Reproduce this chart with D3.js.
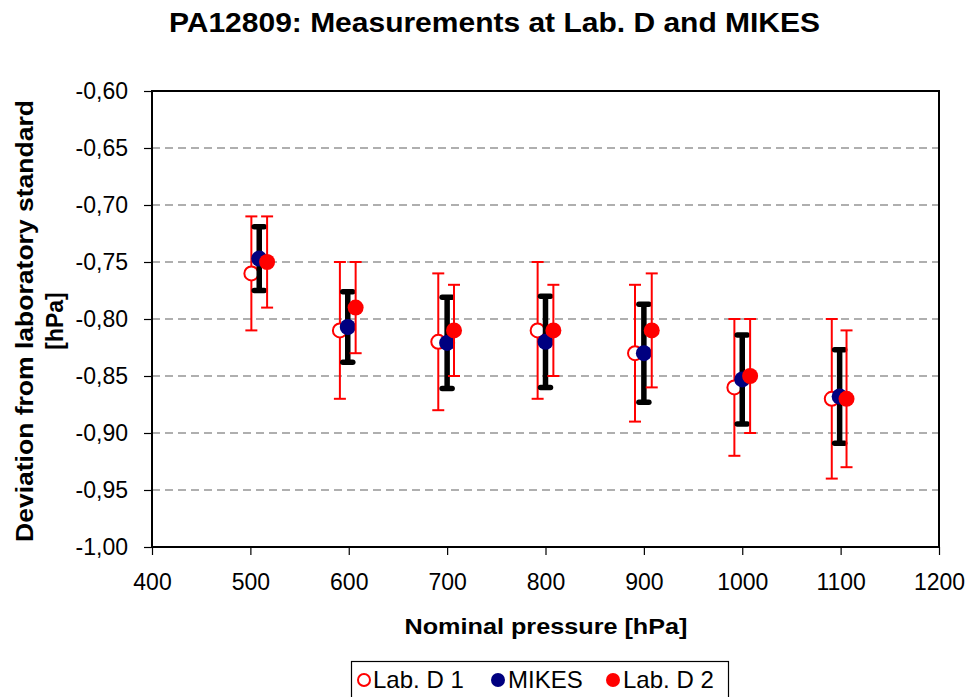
<!DOCTYPE html>
<html><head><meta charset="utf-8">
<script src="https://cdn.jsdelivr.net/npm/d3@7"></script>
<style>body{margin:0;background:#fff}svg{display:block}text{font-family:Arial,"Liberation Sans",sans-serif}</style>
</head><body>
<svg id="c" width="970" height="697"></svg>
<script>
// Data
const xTicks = [400, 500, 600, 700, 800, 900, 1000, 1100, 1200];
const yTicks = [-1.00, -0.95, -0.90, -0.85, -0.80, -0.75, -0.70, -0.65, -0.60];

const labD1P   = [501, 591, 691, 792, 891, 992, 1091];
const labD1Val = [-0.76, -0.81, -0.82, -0.81, -0.83, -0.86, -0.87];
const labD1U   = [0.05, 0.06, 0.06, 0.06, 0.06, 0.06, 0.07];

const mikesP   = [509, 599, 700, 800, 900, 1000, 1099];
const mikesVal = [-0.747, -0.807, -0.821, -0.820, -0.830, -0.853, -0.868];
const mikesU   = [0.028, 0.031, 0.040, 0.040, 0.043, 0.039, 0.041];

const labD2P   = [517, 607, 707, 808, 908, 1008, 1106];
const labD2Val = [-0.75, -0.79, -0.81, -0.81, -0.81, -0.85, -0.87];
const labD2U   = [0.04, 0.04, 0.04, 0.04, 0.05, 0.05, 0.06];

const svg = d3.select("#c");
const L = 152, R = 939, T = 91, B = 547;
const x = d3.scaleLinear().domain([400, 1200]).range([L, R]);
const y = d3.scaleLinear().domain([-1.0, -0.6]).range([B, T]);
const loc = d3.formatLocale({decimal: ",", thousands: ".", grouping: [3], currency: ["", ""], minus: "-"});
const fy = loc.format(".2f");

// title
svg.append("text").attr("x", 169).attr("y", 32).attr("text-anchor", "start")
  .attr("font-size", 28).attr("font-weight", "bold")
  .attr("textLength", 651).attr("lengthAdjust", "spacingAndGlyphs")
  .text("PA12809: Measurements at Lab. D and MIKES");

// grid
svg.append("g").selectAll("line").data(yTicks.filter(v => v > -0.999 && v < -0.601)).join("line")
  .attr("x1", L).attr("x2", R).attr("y1", d => y(d)).attr("y2", d => y(d))
  .attr("stroke", "#606060").attr("stroke-width", 1.1).attr("stroke-dasharray", "8,5");

// axes
const gx = svg.append("g").attr("transform", `translate(0,${B})`)
  .call(d3.axisBottom(x).tickValues(xTicks).tickFormat(d3.format("d")).tickSize(8).tickSizeOuter(0).tickPadding(19));
gx.selectAll("text").attr("font-size", 23).attr("fill", "#000");
const gy = svg.append("g").attr("transform", `translate(${L},0)`)
  .call(d3.axisLeft(y).tickValues(yTicks).tickFormat(fy).tickSize(8).tickSizeOuter(0).tickPadding(16));
gy.selectAll("text").attr("font-size", 23).attr("fill", "#000");
svg.selectAll(".domain").remove();
svg.selectAll(".tick line").attr("stroke", "#000").attr("stroke-width", 1.2);

// frame
svg.append("rect").attr("x", L).attr("y", T).attr("width", R - L).attr("height", B - T)
  .attr("fill", "none").attr("stroke", "#000").attr("stroke-width", 2);

// series drawing
function series(P, V, U, barColor, barW, capW, draw) {
  const g = svg.append("g");
  P.forEach((p, i) => {
    const cx = x(p), y0 = y(V[i] - U[i]), y1 = y(V[i] + U[i]);
    g.append("line").attr("x1", cx).attr("x2", cx).attr("y1", y0).attr("y2", y1)
      .attr("stroke", barColor).attr("stroke-width", barW);
    [y0, y1].forEach(yy => g.append("line").attr("x1", cx - capW / 2).attr("x2", cx + capW / 2)
      .attr("y1", yy).attr("y2", yy).attr("stroke", barColor).attr("stroke-width", barW).attr("stroke-linecap", barW > 3 ? "round" : "butt"));
  });
  P.forEach((p, i) => draw(g.append("circle").attr("cx", x(p)).attr("cy", y(V[i]))));
}
series(labD1P, labD1Val, labD1U, "#ff0000", 2, 12, c => c.attr("r", 7).attr("fill", "#fff").attr("stroke", "#ff0000").attr("stroke-width", 2));
series(mikesP, mikesVal, mikesU, "#000", 5.5, 10, c => c.attr("r", 8).attr("fill", "#000080"));
series(labD2P, labD2Val, labD2U, "#ff0000", 2, 12, c => c.attr("r", 8).attr("fill", "#ff0000"));

// axis titles
svg.append("text").attr("x", 546).attr("y", 634).attr("text-anchor", "middle")
  .attr("font-size", 22).attr("font-weight", "bold")
  .attr("textLength", 283).attr("lengthAdjust", "spacingAndGlyphs")
  .text("Nominal pressure [hPa]");
const yt = svg.append("text").attr("transform", `translate(0,${(T + B) / 2 + 2}) rotate(-90)`)
  .attr("text-anchor", "middle").attr("font-size", 23).attr("font-weight", "bold");
yt.append("tspan").attr("x", 0).attr("y", 33).attr("textLength", 442).attr("lengthAdjust", "spacingAndGlyphs")
  .text("Deviation from laboratory standard");
yt.append("tspan").attr("x", 0).attr("y", 63).text("[hPa]");

// legend
const lg = svg.append("g");
lg.append("rect").attr("x", 351.5).attr("y", 661.5).attr("width", 377).attr("height", 45)
  .attr("fill", "#fff").attr("stroke", "#000").attr("stroke-width", 1.2);
const items = [
  {name: "Lab. D 1", cx: 364, tx: 373, fill: "#fff", stroke: "#ff0000"},
  {name: "MIKES", cx: 498, tx: 508, fill: "#000080", stroke: "none"},
  {name: "Lab. D 2", cx: 613, tx: 623, fill: "#ff0000", stroke: "none"}
];
items.forEach(it => {
  lg.append("circle").attr("cx", it.cx).attr("cy", 680).attr("r", it.stroke === "none" ? 7 : 6)
    .attr("fill", it.fill).attr("stroke", it.stroke).attr("stroke-width", 2);
  lg.append("text").attr("x", it.tx).attr("y", 688).attr("font-size", 24).text(it.name);
});
</script>
</body></html>
